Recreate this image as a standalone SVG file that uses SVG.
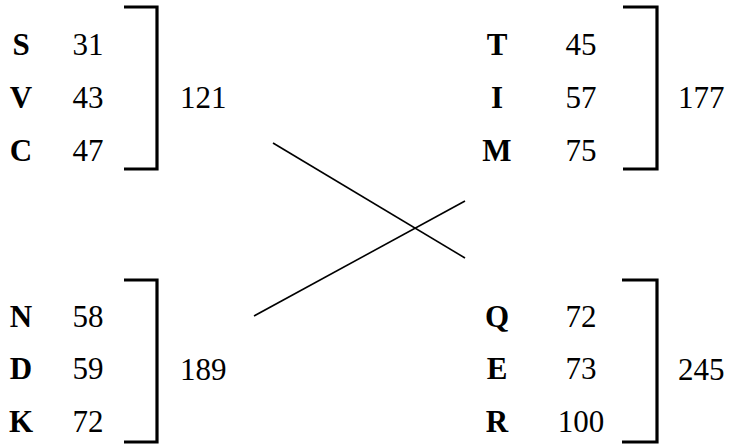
<svg xmlns="http://www.w3.org/2000/svg" width="741" height="446" viewBox="0 0 741 446">
  <style>
    text { font-family: 'Liberation Serif', 'Times New Roman', serif; font-size: 31px; fill: #000; }
    .lbl { font-weight: bold; text-anchor: middle; }
    .num { text-anchor: middle; }
    .brk { fill: none; stroke: #000; stroke-width: 3.2; }
    .cross { stroke: #000; stroke-width: 1.6; }
  </style>
  <rect width="741" height="446" fill="#fff"/>

  <g id="group-svc">
    <text class="lbl" x="21" y="55">S</text><text class="num" x="88" y="55">31</text>
    <text class="lbl" x="21" y="108">V</text><text class="num" x="88" y="108">43</text>
    <text class="lbl" x="21" y="161">C</text><text class="num" x="88" y="161">47</text>
    <path class="brk" d="M124 7 H157 V169 H124"/>
    <text x="180" y="108">121</text>
  </g>

  <g id="group-tim">
    <text class="lbl" x="497" y="55">T</text><text class="num" x="581" y="55">45</text>
    <text class="lbl" x="497" y="108">I</text><text class="num" x="581" y="108">57</text>
    <text class="lbl" x="497" y="161">M</text><text class="num" x="581" y="161">75</text>
    <path class="brk" d="M623 7 H657 V169 H623"/>
    <text x="678" y="108">177</text>
  </g>

  <g id="group-ndk">
    <text class="lbl" x="21" y="327">N</text><text class="num" x="88" y="327">58</text>
    <text class="lbl" x="21" y="379">D</text><text class="num" x="88" y="379">59</text>
    <text class="lbl" x="21" y="432">K</text><text class="num" x="88" y="432">72</text>
    <path class="brk" d="M124 280 H157 V442 H124"/>
    <text x="180" y="380">189</text>
  </g>

  <g id="group-qer">
    <text class="lbl" x="497" y="327">Q</text><text class="num" x="581" y="327">72</text>
    <text class="lbl" x="497" y="379">E</text><text class="num" x="581" y="379">73</text>
    <text class="lbl" x="497" y="432">R</text><text class="num" x="581" y="432">100</text>
    <path class="brk" d="M622 280 H657 V442 H622"/>
    <text x="678" y="380">245</text>
  </g>

  <g id="connectors">
    <line class="cross" x1="273" y1="143" x2="465" y2="258"/>
    <line class="cross" x1="254" y1="316" x2="465" y2="201"/>
  </g>
</svg>
